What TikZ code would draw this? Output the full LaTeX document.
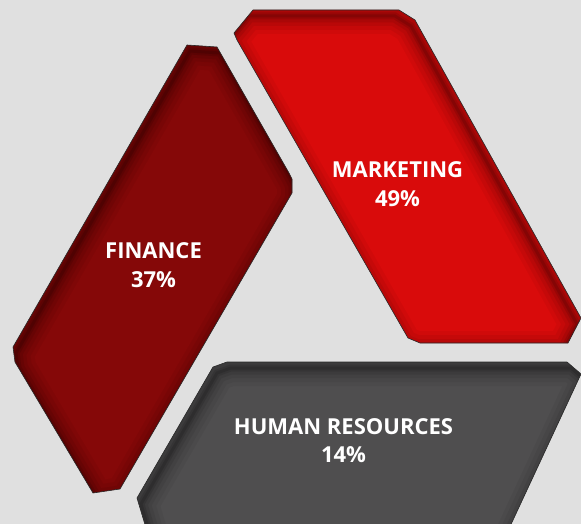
\documentclass[tikz,border=0pt]{standalone}
\usepackage{fontspec}
\setmainfont{Open Sans}
\definecolor{bg}{HTML}{E0E0E0}
\definecolor{mkt}{HTML}{D90B0B}
\definecolor{fin}{HTML}{850808}
\definecolor{hr}{HTML}{4F4E4F}
\definecolor{edge}{HTML}{2A2A2A}
\tikzset{
  lbl/.style={text=white, font=\fontsize{22}{30}\selectfont\bfseries, align=center, inner sep=0pt},
  segshape/.style={draw=edge, line width=0.6pt},
}
\newcommand\innershadow[3]{%
  \begin{scope}
    \clip #1;
    \foreach \w/\o in {36/0.04,28/0.05,20/0.06,13/0.08,7/0.1,3/0.12}
      \draw[line width=\w pt, black, opacity=\o, shift={(#2,#3)}] #1;
  \end{scope}}
\begin{document}
\begin{tikzpicture}[x=1pt,y=-1pt]
  \fill[bg] (0,0) rectangle (581,524);
  \useasboundingbox (0,0) rectangle (581,524);
  \clip (0,0) rectangle (581,524);
  % Marketing
  \def\mk{(253,10) -- (399,10) -- (415,20) -- (581,318) -- (568,343) -- (420,343) -- (408,338) -- (237,40) -- (234,33) -- cycle}
  \fill[mkt] \mk;
  \innershadow{\mk}{-4}{6}
  \draw[segshape] \mk;
  % Finance
  \def\fn{(187,45) -- (217,47) -- (289,173) -- (292,179) -- (292,193) -- (120,489) -- (93,493) -- (15,362) -- (13,347) -- cycle}
  \fill[fin] \fn;
  \innershadow{\fn}{3}{6}
  \draw[segshape] \fn;
  % Human resources
  \def\hr{(213,367) -- (227,362) -- (567,362) -- (581,374) -- (500,548) -- (152,548) -- (137,498) -- cycle}
  \fill[hr] \hr;
  \innershadow{\hr}{4}{6}
  \draw[segshape] \hr;
  % labels
  \node[lbl, anchor=base] (mkt) at (397.5,178) {MARKETING};
  \node[lbl, anchor=base] (mktp) at (397.5,206) {49\%};
  \node[lbl, anchor=base] (fin) at (153.5,258) {FINANCE};
  \node[lbl, anchor=base] (finp) at (153.5,287) {37\%};
  \node[lbl, anchor=base] (hrl) at (343.5,434) {HUMAN RESOURCES};
  \node[lbl, anchor=base] (hrp) at (343.5,462) {14\%};
\end{tikzpicture}
\end{document}
